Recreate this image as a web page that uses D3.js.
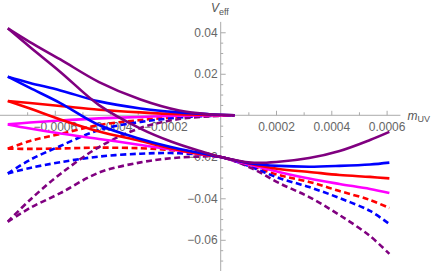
<!DOCTYPE html>
<html>
<head>
<meta charset="utf-8">
<script src="https://cdn.jsdelivr.net/npm/d3@7"></script>
<style>
    body { margin: 0; background: #fff; }
    .axis text { font-family: "Liberation Sans", Arial, sans-serif; font-size: 12px; fill: #666; }
    .axis line { stroke: #aaa; }
    .axisLine { stroke: #aaa; stroke-width: 1; }
    .curve { fill: none; stroke-width: 2.6; stroke-linejoin: round; }
    .axisTitle { font-family: "Liberation Sans", Arial, sans-serif; fill: #555; }
</style>
</head>
<body>
<script>
(function(){

    //x positions (m_UV) shared by the branches
    var xLower = [-0.00077, -0.00069, -0.00058, -0.00044, -0.00029, -0.00018, -0.000075, 0, 0.00011, 0.00021, 0.00032, 0.00043, 0.00054, 0.00061];
    var xUpper = [-0.00077, -0.00069, -0.00058, -0.00044, -0.00029, -0.00015, -0.00004, 0.00005];

    //V_eff values, lower branch (cusp -> right end)
    var purpleLower = [0.0419, 0.0329, 0.0209, 0.0049, -0.0064, -0.0126, -0.0172, -0.0201, -0.0228, -0.0224, -0.0206, -0.0172, -0.0119, -0.0080];
    var blueLower = [0.0186, 0.0132, 0.0059, -0.0047, -0.0114, -0.0153, -0.0182, -0.0201, -0.0232, -0.0244, -0.0248, -0.0244, -0.0237, -0.0228];
    var redLower = [0.0069, 0.0033, -0.0020, -0.0078, -0.0124, -0.0160, -0.0187, -0.0201, -0.0235, -0.0259, -0.0273, -0.0288, -0.0297, -0.0304];
    var magentaLower = [-0.0044, -0.0064, -0.0088, -0.0114, -0.0143, -0.0165, -0.0187, -0.0201, -0.0240, -0.0273, -0.0305, -0.0331, -0.0355, -0.0375];
    var redDashLower = [-0.0161, -0.0162, -0.0160, -0.0156, -0.0159, -0.0168, -0.0184, -0.0201, -0.0244, -0.0288, -0.0321, -0.0365, -0.0408, -0.0447];
    var blueDashLower = [-0.0280, -0.0254, -0.0226, -0.0199, -0.0185, -0.0182, -0.0189, -0.0201, -0.0249, -0.0302, -0.0346, -0.0399, -0.0461, -0.0524];
    var purpleDashLower = [-0.0513, -0.0447, -0.0375, -0.0276, -0.0227, -0.0207, -0.0199, -0.0201, -0.0254, -0.0326, -0.0394, -0.0481, -0.0582, -0.0668];

    //V_eff values, upper branch (cusp -> origin)
    var purpleUpper = [0.0419, 0.0353, 0.0269, 0.0160, 0.0076, 0.0023, 0.0005, 0];
    var blueUpper = [0.0186, 0.0156, 0.0120, 0.0067, 0.0033, 0.0014, 0.0005, 0];
    var redUpper = [0.0069, 0.0059, 0.0045, 0.0027, 0.0014, 0.0005, 0.0002, 0];
    var magentaUpper = [-0.0044, -0.0035, -0.0025, -0.0015, -0.0008, -0.0002, -0.0001, 0];
    var redDashUpper = [-0.0161, -0.0124, -0.0090, -0.0047, -0.0023, -0.0008, -0.0002, 0];
    var blueDashUpper = [-0.0280, -0.0215, -0.0148, -0.0071, -0.0032, -0.0011, -0.0003, 0];
    var purpleDashUpper = [-0.0513, -0.0408, -0.0283, -0.0153, -0.0061, -0.0018, -0.0005, 0];

    //tick values
    var xTicks = [-0.0006, -0.0004, -0.0002, 0.0002, 0.0004, 0.0006];
    var xMinor = [-0.0007, -0.0005, -0.0003, -0.0001, 0.0001, 0.0003, 0.0005];
    var yTicks = [-0.06, -0.04, -0.02, 0.02, 0.04];
    var yMinor = [-0.07, -0.065, -0.055, -0.05, -0.045, -0.035, -0.03, -0.025, -0.015, -0.01, -0.005, 0.005, 0.01, 0.015, 0.025, 0.03, 0.035];

    window.onload = setChart();

    function setChart(){
        var width = 436, height = 271;

        var svg = d3.select("body")
            .append("svg")
            .attr("width", width)
            .attr("height", height);

        var x = d3.scaleLinear()
            .domain([-0.0008, 0.0006])
            .range([-0.5, 386.6]);

        var y = d3.scaleLinear()
            .domain([-0.07, 0.045])
            .range([260.55, 21.9]);

        //axis lines through the origin
        svg.append("line")
            .attr("class", "axisLine")
            .attr("x1", 0).attr("x2", x(0.00065))
            .attr("y1", y(0)).attr("y2", y(0));
        svg.append("line")
            .attr("class", "axisLine")
            .attr("x1", x(0)).attr("x2", x(0))
            .attr("y1", y(0.045)).attr("y2", height);

        //x ticks (pointing up)
        var xAxis = svg.append("g")
            .attr("class", "axis")
            .attr("transform", "translate(0," + y(0) + ")")
            .call(d3.axisBottom(x).tickValues(xTicks).tickFormat(d3.format(".4f"))
                .tickSizeInner(-4.5).tickSizeOuter(0).tickPadding(7));
        xAxis.select(".domain").remove();

        var xAxisMinor = svg.append("g")
            .attr("class", "axis")
            .attr("transform", "translate(0," + y(0) + ")")
            .call(d3.axisBottom(x).tickValues(xMinor).tickFormat("")
                .tickSizeInner(-3).tickSizeOuter(0));
        xAxisMinor.select(".domain").remove();

        //y ticks (pointing right)
        var yAxis = svg.append("g")
            .attr("class", "axis")
            .attr("transform", "translate(" + x(0) + ",0)")
            .call(d3.axisLeft(y).tickValues(yTicks).tickFormat(d3.format(".2f"))
                .tickSizeInner(-5).tickSizeOuter(0).tickPadding(3));
        yAxis.select(".domain").remove();

        var yAxisMinor = svg.append("g")
            .attr("class", "axis")
            .attr("transform", "translate(" + x(0) + ",0)")
            .call(d3.axisLeft(y).tickValues(yMinor).tickFormat("")
                .tickSizeInner(-2.5).tickSizeOuter(0));
        yAxisMinor.select(".domain").remove();

        //series, drawn back to front
        var series = [
            {color: "#ff0000", dash: true, upper: redDashUpper, lower: redDashLower},
            {color: "#0000ff", dash: true, upper: blueDashUpper, lower: blueDashLower},
            {color: "#800080", dash: true, upper: purpleDashUpper, lower: purpleDashLower},
            {color: "#ff00ff", dash: false, upper: magentaUpper, lower: magentaLower},
            {color: "#ff0000", dash: false, upper: redUpper, lower: redLower},
            {color: "#0000ff", dash: false, upper: blueUpper, lower: blueLower},
            {color: "#800080", dash: false, upper: purpleUpper, lower: purpleLower}
        ];

        //each branch starts at the cusp so the cusp stays sharp
        var line = d3.line()
            .x(function(d){ return x(d[0]); })
            .y(function(d){ return y(d[1]); })
            .curve(d3.curveCatmullRom.alpha(0.5));

        series.forEach(function(s){
            [d3.zip(xUpper, s.upper), d3.zip(xLower, s.lower)].forEach(function(pts){
                svg.append("path")
                    .datum(pts)
                    .attr("class", "curve")
                    .attr("d", line)
                    .style("stroke", s.color)
                    .style("stroke-dasharray", s.dash ? "6,3.5" : null);
            });
        });

        //axis titles
        var yTitle = svg.append("text")
            .attr("class", "axisTitle")
            .attr("x", 211)
            .attr("y", 11.5);
        yTitle.append("tspan").style("font-style", "italic").style("font-size", "12px").text("V");
        yTitle.append("tspan").style("font-size", "9px").attr("dy", 3.5).text("eff");

        var xTitle = svg.append("text")
            .attr("class", "axisTitle")
            .attr("x", 407.5)
            .attr("y", 120);
        xTitle.append("tspan").style("font-style", "italic").style("font-size", "12px").text("m");
        xTitle.append("tspan").style("font-size", "9px").attr("dy", 2).text("UV");
    };

})();
</script>
</body>
</html>
